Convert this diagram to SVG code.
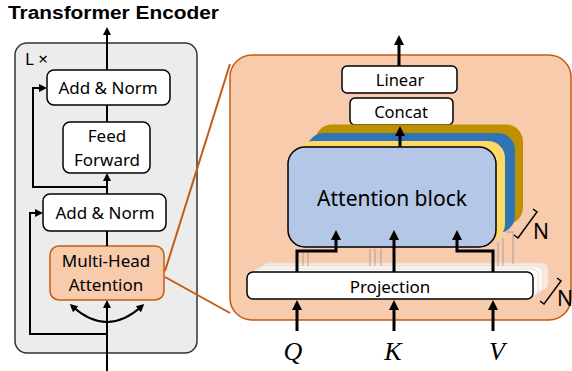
<svg xmlns="http://www.w3.org/2000/svg" width="572" height="371" viewBox="0 0 572 371">
<style>
text{font-family:"Noto Sans","Open Sans",sans-serif;fill:#000;text-anchor:middle}
.box{fill:#fff;stroke:#000;stroke-width:1.5}
.ln{fill:none;stroke:#000;stroke-width:2;stroke-linejoin:miter}
.lnb{fill:none;stroke:#000;stroke-width:3;stroke-linejoin:miter}
.t17{font-size:17px}
.ghost{fill:none;stroke:#8c8c8c;stroke-opacity:0.35;stroke-width:2}
.brk{fill:none;stroke:#000;stroke-width:1.5}
.orange{fill:none;stroke:#c55a11;stroke-width:2}
.qkv{font-family:"Liberation Serif",serif;font-style:italic;font-size:26px}
</style>
<defs>
<marker id="ma" viewBox="0 0 8 8" refX="5" refY="4" markerWidth="8" markerHeight="8" markerUnits="userSpaceOnUse" orient="auto-start-reverse"><path d="M0,0 L8,4 L0,8 z" fill="#000"/></marker>
<marker id="mb" viewBox="0 0 10 10" refX="6" refY="5" markerWidth="10" markerHeight="10" markerUnits="userSpaceOnUse" orient="auto-start-reverse"><path d="M0,0 L10,5 L0,10 z" fill="#000"/></marker>
</defs>
<rect width="572" height="371" fill="#fff"/>
<text x="8" y="18.5" textLength="211" lengthAdjust="spacingAndGlyphs" style="font-family:'Liberation Sans',Arial,sans-serif;font-size:18px;font-weight:bold;text-anchor:start">Transformer Encoder</text>

<g id="encoder-panel">
<rect x="15" y="43" width="182" height="310" rx="12" fill="#ececec" stroke="#333" stroke-width="1.5"/>
<text x="25" y="65" style="font-size:17px;text-anchor:start">L ×</text>
</g>

<g id="mha-detail-panel">
<rect x="230" y="55" width="341" height="265" rx="22" fill="#f8cbad" stroke="#c55a11" stroke-width="1.5"/>
</g>

<g id="add-norm-2">
<rect class="box" x="47" y="70" width="123" height="35" rx="7"/>
<text class="t17" x="108" y="94">Add &amp; Norm</text>
</g>
<g id="feed-forward">
<rect class="box" x="63" y="122" width="87" height="51" rx="7"/>
<text class="t17" x="107" y="142">Feed</text>
<text class="t17" x="107" y="166">Forward</text>
</g>
<g id="add-norm-1">
<rect class="box" x="43" y="194" width="123" height="37" rx="7"/>
<text class="t17" x="105" y="219">Add &amp; Norm</text>
</g>
<g id="multi-head-attention">
<rect x="50" y="246" width="114" height="54" rx="9" fill="#f8cbad" stroke="#c55a11" stroke-width="1.5"/>
<text class="t17" x="106" y="267">Multi-Head</text>
<text class="t17" x="106" y="291">Attention</text>
</g>

<g id="linear">
<rect class="box" x="342" y="66" width="115" height="27" rx="5"/>
<text x="400" y="86" style="font-size:16.5px">Linear</text>
</g>
<g id="concat">
<rect class="box" x="350" y="98" width="103" height="27" rx="5"/>
<text x="401" y="118" style="font-size:16.5px">Concat</text>
</g>

<g id="projection-stack">
<rect x="262" y="263" width="286" height="27" rx="6" fill="#fff" fill-opacity="0.55" stroke="#e0e0e0" stroke-width="1"/>
<rect x="257" y="266" width="286" height="27" rx="6" fill="#fff" fill-opacity="0.6" stroke="#e0e0e0" stroke-width="1"/>
<rect x="252" y="269" width="286" height="27" rx="6" fill="#fff" fill-opacity="0.7" stroke="#e0e0e0" stroke-width="1"/>
</g>

<g id="ghost-arrows">
<path class="ghost" d="M303,266 V250"/>
<path class="ghost" d="M308,266 V250"/>
<path class="ghost" d="M370,266 V249"/>
<path class="ghost" d="M375,266 V249"/>
<path class="ghost" d="M381,266 V249"/>
<path class="ghost" d="M498,266 V242"/>
<path class="ghost" d="M503,266 V238"/>
<path class="ghost" d="M513,264 V232 H506"/>
</g>

<g id="attention-block">
<rect x="315" y="124.5" width="208" height="100" rx="17" fill="#bf9000"/>
<rect x="307" y="133" width="208" height="100" rx="17" fill="#2e75b6"/>
<rect x="297" y="141" width="208" height="100" rx="17" fill="#ffd966"/>
<rect x="288" y="147" width="208" height="100" rx="17" fill="#b4c7e7" stroke="#000" stroke-width="1.5"/>
<text x="392" y="206" style="font-size:21px">Attention block</text>
</g>

<g id="projection">
<rect class="box" x="247" y="272" width="286" height="27" rx="6"/>
<text class="t17" x="390" y="293">Projection</text>
</g>

<g id="labels">
<text class="qkv" x="293" y="360">Q</text>
<text class="qkv" x="393" y="360">K</text>
<text class="qkv" x="497" y="360">V</text>
<path class="brk" d="M514,235 L518,238 L537,212 L533,209"/>
<text x="533" y="239" style="font-size:21px;text-anchor:start">N</text>
<path class="brk" d="M540,301 L544,304 L561,281 L557,278"/>
<text x="557" y="306" style="font-size:21px;text-anchor:start">N</text>
</g>

<g id="connectors">
<path class="orange" d="M165,271 L230,64"/>
<path class="orange" d="M165,277 L230,313"/>
<path class="ln" d="M107,70 V30" marker-end="url(#ma)"/>
<path class="ln" d="M107,105 V122"/>
<path class="ln" d="M107,194 V176" marker-end="url(#ma)"/>
<path class="ln" d="M107,187 H33 V88 H44" marker-end="url(#ma)"/>
<path class="ln" d="M107,231 V246"/>
<path class="ln" d="M107,371 V303" marker-end="url(#ma)"/>
<path class="ln" d="M72,306 Q107,338 142,306" marker-start="url(#ma)" marker-end="url(#ma)"/>
<path class="ln" d="M107,334 H30 V213 H40" marker-end="url(#ma)"/>
<path class="lnb" d="M399,66 V39" marker-end="url(#mb)"/>
<path class="lnb" d="M400,147 V130" marker-end="url(#mb)"/>
<path class="lnb" d="M297,272 V251 H336 V234" marker-end="url(#mb)"/>
<path class="lnb" d="M394,272 V234" marker-end="url(#mb)"/>
<path class="lnb" d="M493,272 V251 H457 V234" marker-end="url(#mb)"/>
<path class="lnb" d="M297,331 V304" marker-end="url(#mb)"/>
<path class="lnb" d="M394,331 V304" marker-end="url(#mb)"/>
<path class="lnb" d="M493,331 V304" marker-end="url(#mb)"/>
</g>
</svg>
